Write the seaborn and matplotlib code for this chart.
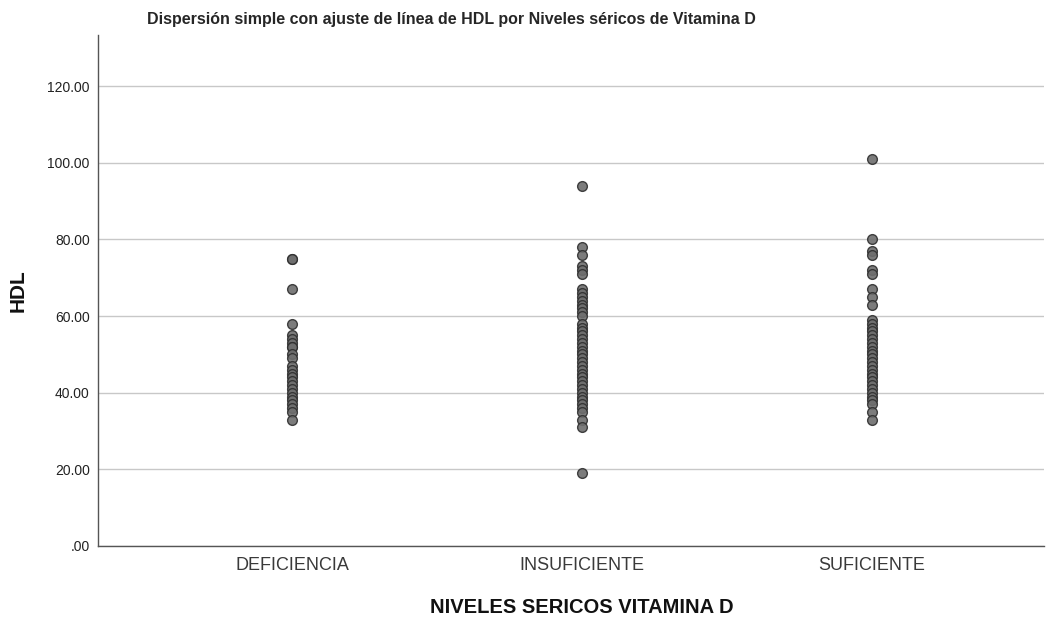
import matplotlib
matplotlib.use('Agg')
import matplotlib.pyplot as plt
import seaborn as sns
import pandas as pd

# Data
categories = ["DEFICIENCIA", "INSUFICIENTE", "SUFICIENTE"]
hdl_deficiencia = [75, 75, 67, 58, 55, 54, 53, 52, 52, 50, 49, 47, 46, 45, 44, 43, 42,
                   41, 40, 39, 38, 37, 36, 35, 33]
hdl_insuficiente = [94, 78, 76, 73, 72, 71, 67, 66, 65, 64, 63, 62, 61, 60, 58, 57, 56,
                    55, 54, 53, 52, 51, 50, 49, 48, 47, 46, 45, 44, 43, 42, 41, 40,
                    39, 38, 37, 36, 35, 33, 31, 19]
hdl_suficiente = [101, 80, 77, 76, 72, 71, 67, 65, 63, 59, 58, 57, 56, 55, 54, 53, 52,
                  51, 50, 49, 48, 47, 46, 45, 44, 43, 42, 41, 40, 39, 38, 37, 35, 33]

df = pd.DataFrame({
    "nivel": ([categories[0]] * len(hdl_deficiencia)
              + [categories[1]] * len(hdl_insuficiente)
              + [categories[2]] * len(hdl_suficiente)),
    "HDL": hdl_deficiencia + hdl_insuficiente + hdl_suficiente,
})

sns.set_style("white")
plt.rcParams['font.family'] = ['Liberation Sans', 'DejaVu Sans']

fig = plt.figure(figsize=(10.54, 6.19), dpi=100)
ax = fig.add_axes([0.093, 0.118, 0.8975, 0.825])

sns.stripplot(data=df, x="nivel", y="HDL", order=categories, jitter=False,
              color="#6e6e6e", edgecolor="#303030", linewidth=1.0, size=7,
              alpha=0.9, ax=ax, zorder=3)

ax.set_ylim(0, 133.3)
ax.set_xlim(-0.669, 2.593)
ax.set_yticks([0, 20, 40, 60, 80, 100, 120])
ax.set_yticklabels([".00", "20.00", "40.00", "60.00", "80.00", "100.00", "120.00"], fontsize=10)
ax.yaxis.grid(True, color="#c8c8c8", linewidth=1.0, zorder=0)
ax.set_axisbelow(True)
ax.tick_params(axis='x', labelsize=13, length=0, pad=8, colors="#3a3a3a")
ax.tick_params(axis='y', length=0, pad=6, colors="#222222")

for side in ["top", "right"]:
    ax.spines[side].set_visible(False)
for side in ["left", "bottom"]:
    ax.spines[side].set_color("#555555")
    ax.spines[side].set_linewidth(1.0)

ax.set_xlabel("NIVELES SERICOS VITAMINA D", fontsize=14.5, fontweight="bold",
              color="#111111", labelpad=17)
ax.xaxis.label.set_x(0.5116)
ax.set_ylabel("HDL", fontsize=15, fontweight="bold", color="#111111", labelpad=14)
ax.set_title("Dispersión simple con ajuste de línea de HDL por Niveles séricos de Vitamina D",
             fontsize=11.5, fontweight="bold", pad=8, x=0.374)

fig.savefig("out.png", dpi=100)
